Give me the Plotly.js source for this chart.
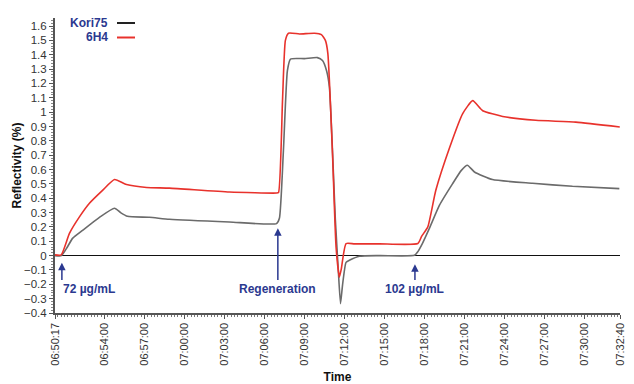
<!DOCTYPE html>
<html>
<head>
<meta charset="utf-8">
<script src="https://cdn.plot.ly/plotly-3.0.1.min.js"></script>
<style>html,body{margin:0;padding:0;background:#fff;}#chart{width:634px;height:384px;}</style>
</head>
<body>
<div id="chart"></div>
<script>
// ---- data ----
const DAY = "2000-01-01 ";
const timesKori75 = ["06:50:17","06:50:46","06:51:09","06:51:36","06:52:21","06:53:37","06:54:45","06:55:12","06:55:43","06:57:22","06:58:52","07:03:22","07:06:54","07:07:07","07:07:25","07:07:43","07:07:57","07:09:00","07:09:58","07:10:21","07:10:39","07:10:52","07:11:19","07:11:32","07:11:42","07:11:51","07:12:07","07:12:22","07:13:07","07:14:37","07:17:15","07:17:28","07:17:51","07:18:22","07:19:07","07:20:06","07:20:46","07:21:13","07:21:45","07:23:06","07:26:06","07:29:06","07:32:37"];
const kori75 = [0.0,0.0,0.05,0.12,0.176,0.267,0.33,0.30,0.274,0.267,0.253,0.234,0.223,0.26,0.73,1.29,1.37,1.373,1.38,1.36,1.29,1.175,0.246,-0.10,-0.335,-0.207,-0.047,-0.033,-0.005,0.0,0.002,0.023,0.086,0.19,0.35,0.50,0.594,0.63,0.583,0.53,0.504,0.483,0.467];
const times6H4 = ["06:50:17","06:50:45","06:51:22","06:52:07","06:52:52","06:53:51","06:54:45","06:55:39","06:57:09","06:58:52","07:03:22","07:06:54","07:07:03","07:07:21","07:07:34","07:07:48","07:08:37","07:09:45","07:10:16","07:10:34","07:10:45","07:11:06","07:11:22","07:11:37","07:11:46","07:12:07","07:12:45","07:14:37","07:17:30","07:17:47","07:18:15","07:18:51","07:19:54","07:20:52","07:21:37","07:22:22","07:23:52","07:26:21","07:29:21","07:32:39"];
const h6H4 = [0.005,0.005,0.155,0.27,0.365,0.455,0.53,0.495,0.475,0.47,0.443,0.436,0.44,1.08,1.50,1.55,1.545,1.55,1.54,1.50,1.41,0.71,0.06,-0.15,-0.09,0.084,0.082,0.082,0.084,0.134,0.2,0.455,0.757,0.99,1.08,1.01,0.97,0.943,0.93,0.896];
const tickTimes = ["06:50:17","06:54:00","06:57:00","07:00:00","07:03:00","07:06:00","07:09:00","07:12:00","07:15:00","07:18:00","07:21:00","07:24:00","07:27:00","07:30:00","07:32:40"];
const eventNames = ["72 µg/mL","Regeneration","102 µg/mL"];
const eventTimes = ["06:50:48","07:07:00","07:17:17"];
const eventHeads = [-0.05,0.19,-0.06];
const seriesNames = ["Kori75","6H4"];

const NAVY = "#2b3990";
const FONT = "Liberation Sans, Arial, sans-serif";
const d = t => DAY + t;

const traces = [
  {x: timesKori75.map(d), y: kori75, name: seriesNames[0], type: "scatter", mode: "lines",
   line: {color: "#6b6b6b", width: 1.6, shape: "spline", smoothing: 0.5}},
  {x: times6H4.map(d), y: h6H4, name: seriesNames[1], type: "scatter", mode: "lines",
   line: {color: "#e8322c", width: 1.6, shape: "spline", smoothing: 0.5}}
];

const annotations = [];
eventNames.forEach((n, i) => {
  annotations.push({x: d(eventTimes[i]), y: eventHeads[i], ax: d(eventTimes[i]), ay: -0.18,
    xref: "x", yref: "y", axref: "x", ayref: "y", text: "", showarrow: true,
    arrowhead: 2, arrowsize: 1, arrowwidth: 1.5, arrowcolor: NAVY});
  annotations.push({x: d(eventTimes[i]), y: -0.235, xref: "x", yref: "y", text: n, showarrow: false,
    xanchor: i === 0 ? "left" : "center", xshift: i === 0 ? -1 : 0, yanchor: "middle",
    font: {family: FONT, size: 12, color: NAVY, weight: "bold"}});
});
// legend (text left of line sample, as in reference)
const legColors = ["#222222", "#e8322c"];
const shapes = [];
seriesNames.forEach((n, i) => {
  const py = 23 + i * 14.5;
  const yp = (313 - py) / 295;
  annotations.push({x: (110 - 55) / 565, y: yp, xref: "paper", yref: "paper", text: n, showarrow: false,
    xanchor: "right", yanchor: "middle", font: {family: FONT, size: 12, color: NAVY, weight: "bold"}});
  shapes.push({type: "line", xref: "paper", yref: "paper", x0: (117 - 55) / 565, x1: (135 - 55) / 565,
    y0: yp, y1: yp, line: {color: legColors[i], width: 2}});
});

const layout = {
  width: 634, height: 384,
  margin: {l: 55, r: 14, t: 18, b: 71, pad: 0},
  paper_bgcolor: "#fff", plot_bgcolor: "#fff",
  showlegend: false,
  font: {family: FONT, size: 11, color: "#222"},
  xaxis: {
    type: "date", range: [d("06:50:17"), d("07:32:40")],
    tickmode: "array", tickvals: tickTimes.map(d), ticktext: tickTimes,
    tickangle: -90, ticks: "outside", ticklen: 4, tickcolor: "#555",
    tickfont: {family: FONT, size: 11, color: "#333"},
    minor: {dtick: 15000, tick0: d("06:50:15"), ticks: "outside", ticklen: 2.5, tickcolor: "#777"},
    showline: true, linecolor: "#555", linewidth: 1.5, showgrid: false, zeroline: false,
    title: {text: "Time", standoff: 8, font: {family: FONT, size: 12, color: "#111", weight: "bold"}}
  },
  yaxis: {
    range: [-0.4, 1.656], dtick: 0.1, tick0: 0,
    ticks: "outside", ticklen: 4, tickcolor: "#555",
    tickfont: {family: FONT, size: 11.5, color: "#333"},
    minor: {dtick: 0.02, ticks: "outside", ticklen: 2, tickcolor: "#888"},
    showline: true, linecolor: "#555", linewidth: 2, showgrid: false,
    zeroline: true, zerolinecolor: "#111", zerolinewidth: 1,
    title: {text: "Reflectivity (%)", standoff: 0, font: {family: FONT, size: 12, color: "#111", weight: "bold"}}
  },
  annotations: annotations,
  shapes: shapes
};

Plotly.newPlot("chart", traces, layout, {displayModeBar: false, staticPlot: true});
</script>
</body>
</html>
